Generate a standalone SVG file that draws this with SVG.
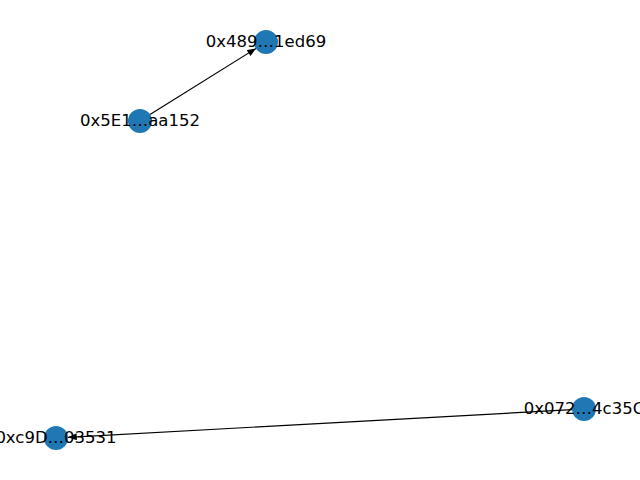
<svg xmlns="http://www.w3.org/2000/svg" width="640" height="480" viewBox="0 0 640 480">
<defs>
<marker id="ah" viewBox="0 0 10 8" refX="10" refY="4" markerWidth="9" markerHeight="7" orient="auto" markerUnits="userSpaceOnUse">
<path d="M0,0 L10,4 L0,8 Z" fill="#000"/>
</marker>
<style>
.n{fill:#1f77b4}
.e{stroke:#000;stroke-width:1.2;fill:none}
.t{font-family:"DejaVu Sans",sans-serif;font-size:16.5px;fill:#000;text-anchor:middle;dominant-baseline:central}
</style>
</defs>
<rect width="640" height="480" fill="#fff"/>
<g id="edges">
<line class="e" x1="150" y1="114.6" x2="256" y2="48.4" marker-end="url(#ah)"/>
<line class="e" x1="572" y1="409.7" x2="68" y2="437.3" marker-end="url(#ah)"/>
</g>
<g id="n1"><circle class="n" cx="266" cy="42" r="12"/><text class="t" x="266" y="41">0x489…1ed69</text></g>
<g id="n2"><circle class="n" cx="140" cy="121" r="12"/><text class="t" x="140" y="120">0x5E1…aa152</text></g>
<g id="n3"><circle class="n" cx="56" cy="438" r="12"/><text class="t" x="56" y="437">0xc9D…03531</text></g>
<g id="n4"><circle class="n" cx="584" cy="409" r="12"/><text class="t" x="584" y="408">0x072…4c35C</text></g>
</svg>
